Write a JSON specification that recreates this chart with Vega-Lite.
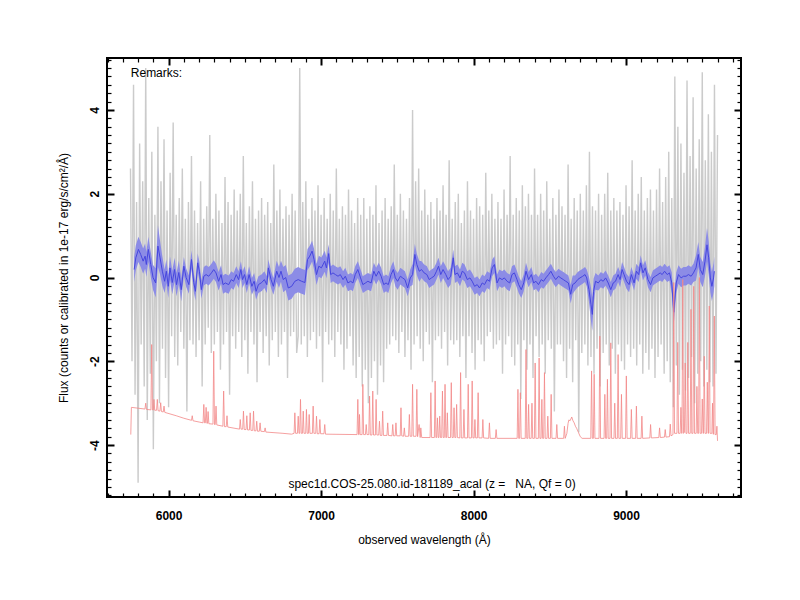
{
  "$schema": "https://vega.github.io/schema/vega-lite/v6.json",
  "width": 634,
  "height": 439,
  "autosize": {"type": "none"},
  "padding": {"left": 107, "top": 58, "right": 59, "bottom": 103},
  "background": "white",
  "config": {
    "view": {"stroke": "black", "strokeWidth": 2},
    "font": "Liberation Sans",
    "axis": {
      "grid": false,
      "domain": false,
      "tickColor": "black",
      "labelColor": "black",
      "labelFont": "Liberation Sans",
      "labelFontSize": 12,
      "labelFontWeight": "bold",
      "labelOverlap": false,
      "labelBound": false,
      "labelFlush": false,
      "titleFont": "Liberation Sans",
      "titleFontSize": 12,
      "titleFontWeight": "normal",
      "titleColor": "black"
    }
  },
  "resolve": {"axis": {"x": "independent", "y": "independent"}},
  "layer": [
    {
      "data": {
        "values": "w,f\n5750,2.6\n5760,-2.0\n5770,4.6\n5780,-2.8\n5790,1.8\n5800,-4.9\n5810,3.2\n5820,-1.6\n5830,2.3\n5840,-2.6\n5850,5.0\n5860,-3.4\n5870,1.9\n5880,-2.3\n5890,3.0\n5900,-4.1\n5910,1.5\n5920,-2.0\n5930,3.6\n5940,-3.0\n5950,2.3\n5960,-1.7\n5970,3.3\n5980,-2.4\n5990,1.6\n6000,-3.1\n6010,2.5\n6020,-1.4\n6030,3.7\n6040,-1.9\n6050,1.5\n6060,-2.1\n6070,1.9\n6080,-1.3\n6090,2.6\n6100,-1.7\n6110,1.4\n6120,-3.2\n6130,1.8\n6140,-1.5\n6150,2.9\n6160,-1.6\n6170,1.6\n6180,-1.9\n6190,1.3\n6200,-1.5\n6210,2.3\n6220,-2.6\n6230,1.4\n6240,-1.6\n6250,1.7\n6260,-1.2\n6270,3.4\n6280,-1.8\n6290,1.4\n6300,-1.6\n6310,2.0\n6320,-1.3\n6330,1.6\n6340,-2.2\n6350,1.3\n6360,-1.6\n6370,2.4\n6380,-1.3\n6390,1.8\n6400,-2.8\n6410,1.5\n6420,-1.4\n6430,2.1\n6440,-1.7\n6450,1.6\n6460,-1.3\n6470,2.0\n6480,-1.9\n6490,2.9\n6500,-1.5\n6510,1.3\n6520,-2.3\n6530,1.7\n6540,-1.3\n6550,2.3\n6560,-1.6\n6570,1.4\n6580,-2.5\n6590,1.6\n6600,-1.3\n6610,1.9\n6620,-1.8\n6630,1.5\n6640,-1.4\n6650,1.8\n6660,-2.1\n6670,1.3\n6680,-1.5\n6690,2.7\n6700,-1.3\n6710,1.6\n6720,-1.9\n6730,2.1\n6740,-1.6\n6750,1.4\n6760,-1.3\n6770,1.7\n6780,-2.4\n6790,1.5\n6800,-1.4\n6810,2.0\n6820,-1.3\n6830,1.6\n6840,-1.8\n6850,-1.4\n6860,5.0\n6870,-1.6\n6880,1.8\n6890,-1.4\n6900,2.3\n6910,-1.9\n6920,1.4\n6930,-1.5\n6940,1.9\n6950,-1.3\n6960,1.6\n6970,-1.7\n6980,2.2\n6990,-1.4\n7000,1.5\n7010,-2.5\n7020,1.9\n7030,-1.3\n7040,1.4\n7050,-1.6\n7060,2.0\n7070,-1.5\n7080,1.6\n7090,-1.9\n7100,2.6\n7110,-1.3\n7120,1.4\n7130,-1.6\n7140,1.7\n7150,-2.2\n7160,1.5\n7170,-1.7\n7180,2.1\n7190,-1.4\n7200,1.6\n7210,-2.1\n7220,1.3\n7230,-2.4\n7240,1.9\n7250,-1.9\n7260,1.5\n7270,-2.6\n7280,1.9\n7290,-2.2\n7300,1.4\n7310,-3.0\n7320,1.7\n7330,-2.4\n7340,1.5\n7350,-2.0\n7360,2.2\n7370,-2.8\n7380,1.3\n7390,-2.1\n7400,1.6\n7410,-2.5\n7420,1.9\n7430,-1.7\n7440,1.4\n7450,-1.6\n7460,1.7\n7470,-1.4\n7480,2.7\n7490,-1.5\n7500,1.5\n7510,-1.8\n7520,2.0\n7530,-1.3\n7540,1.6\n7550,-1.9\n7560,1.4\n7570,-1.5\n7580,1.9\n7590,-2.2\n7600,4.0\n7610,-1.6\n7620,2.3\n7630,-1.4\n7640,2.6\n7650,-1.7\n7660,1.6\n7670,-2.0\n7680,2.1\n7690,-1.3\n7700,1.5\n7710,-1.6\n7720,1.8\n7730,-2.5\n7740,1.4\n7750,-1.5\n7760,1.9\n7770,-1.4\n7780,1.6\n7790,-1.7\n7800,2.2\n7810,-1.3\n7820,1.5\n7830,-2.1\n7840,2.8\n7850,-1.5\n7860,1.4\n7870,-1.6\n7880,1.8\n7890,-1.5\n7900,2.0\n7910,-1.9\n7920,1.3\n7930,-1.4\n7940,1.6\n7950,-2.4\n7960,2.3\n7970,-1.4\n7980,1.6\n7990,-1.8\n8000,1.4\n8010,-2.2\n8020,1.9\n8030,-1.5\n8040,1.7\n8050,-1.6\n8060,1.5\n8070,-2.0\n8080,2.5\n8090,-1.4\n8100,1.6\n8110,-1.3\n8120,2.0\n8130,-1.7\n8140,1.4\n8150,-1.6\n8160,1.8\n8170,-1.5\n8180,1.4\n8190,-2.3\n8200,2.1\n8210,-1.6\n8220,1.5\n8230,-1.4\n8240,2.9\n8250,-1.9\n8260,1.5\n8270,-2.1\n8280,1.9\n8290,-1.6\n8300,1.6\n8310,-2.9\n8320,2.2\n8330,-1.5\n8340,1.7\n8350,-2.2\n8360,2.0\n8370,-1.6\n8380,1.5\n8390,-2.4\n8400,2.6\n8410,-1.4\n8420,1.5\n8430,-1.9\n8440,2.0\n8450,-1.6\n8460,1.6\n8470,-2.3\n8480,2.3\n8490,-1.5\n8500,1.4\n8510,-1.7\n8520,1.9\n8530,-3.2\n8540,1.5\n8550,-1.6\n8560,2.1\n8570,-1.6\n8580,1.7\n8590,-2.0\n8600,1.5\n8610,-2.4\n8620,2.7\n8630,-1.7\n8640,1.4\n8650,-2.5\n8660,1.9\n8670,-1.5\n8680,1.6\n8690,-3.7\n8700,2.0\n8710,-1.8\n8720,1.6\n8730,-1.6\n8740,2.2\n8750,-2.1\n8760,3.0\n8770,-1.9\n8780,1.7\n8790,-2.3\n8800,1.6\n8810,-1.7\n8820,2.0\n8830,-2.6\n8840,1.5\n8850,-1.8\n8860,2.0\n8870,-1.6\n8880,2.5\n8890,-2.1\n8900,1.6\n8910,-1.7\n8920,1.9\n8930,-2.3\n8940,1.6\n8950,-1.6\n8960,1.8\n8970,-2.0\n8980,1.5\n8990,-2.2\n9000,2.2\n9010,-1.6\n9020,1.7\n9030,-1.9\n9040,2.8\n9050,-1.7\n9060,1.6\n9070,-2.1\n9080,2.0\n9090,-1.6\n9100,2.4\n9110,-2.3\n9120,1.6\n9130,-1.8\n9140,1.9\n9150,-2.2\n9160,2.1\n9170,-1.7\n9180,1.6\n9190,-2.4\n9200,2.1\n9210,-1.9\n9220,2.6\n9230,-1.6\n9240,1.8\n9250,-2.3\n9260,2.4\n9270,-2.0\n9280,3.0\n9290,-2.5\n9300,1.9\n9310,-3.1\n9320,4.8\n9330,-2.1\n9340,3.6\n9350,-2.8\n9360,3.2\n9370,-2.2\n9380,2.5\n9390,-2.7\n9400,4.7\n9410,-2.4\n9420,2.9\n9430,-1.9\n9440,4.3\n9450,-3.0\n9460,2.6\n9470,-2.3\n9480,3.3\n9490,-2.0\n9500,4.9\n9510,-2.6\n9520,2.8\n9530,-2.2\n9540,3.9\n9550,-2.5\n9560,3.0\n9570,-2.6\n9580,4.6\n9590,-2.3\n9600,3.4",
        "format": {"type": "csv", "parse": {"w": "number", "f": "number"}}
      },
      "mark": {"type": "line", "color": "#cbcbcb", "strokeWidth": 1.4, "clip": true},
      "encoding": {
        "x": {
          "field": "w",
          "type": "quantitative",
          "scale": {"domain": [5596, 9754], "nice": false, "zero": false},
          "axis": {
            "orient": "bottom",
            "title": "observed wavelength (Å)",
            "titlePadding": 13,
            "values": [6000, 7000, 8000, 9000],
            "format": "d",
            "ticks": false,
            "tickSize": 0,
            "labelPadding": 13
          }
        },
        "y": {
          "field": "f",
          "type": "quantitative",
          "scale": {"domain": [-5.24, 5.24], "nice": false, "zero": false},
          "axis": {
            "orient": "left",
            "title": "Flux (counts or calibrated in 1e-17 erg/s/cm²/Å)",
            "titlePadding": 18,
            "values": [-4, -2, 0, 2, 4],
            "labelExpr": "'' + datum.value",
            "ticks": false,
            "tickSize": 0,
            "labelAngle": -90,
            "labelAlign": "center",
            "labelBaseline": "bottom",
            "labelPadding": 6
          }
        }
      }
    },
    {
      "data": {
        "name": "blue",
        "values": "w,f,lo,hi\n5774,0.19,-0.11,0.49\n5785,0.47,0.17,0.77\n5802,0.67,0.37,0.97\n5817,0.55,0.25,0.85\n5833,0.39,0.09,0.69\n5846,0.51,0.21,0.81\n5854,0.31,0.01,0.61\n5867,0.67,0.37,0.97\n5883,0.31,0.01,0.61\n5898,0.0,-0.3,0.3\n5915,-0.13,-0.48,0.22\n5930,0.75,0.25,1.25\n5944,0.47,0.07,0.87\n5959,0.15,-0.2,0.5\n5974,-0.09,-0.37,0.19\n5985,0.15,-0.13,0.43\n5998,-0.21,-0.49,0.07\n6009,0.23,-0.05,0.51\n6024,-0.12,-0.4,0.16\n6039,0.19,-0.09,0.47\n6052,-0.17,-0.45,0.11\n6067,0.12,-0.16,0.4\n6083,-0.29,-0.57,-0.01\n6100,0.27,0.05,0.49\n6115,0.0,-0.22,0.22\n6133,-0.17,-0.39,0.05\n6150,0.43,0.21,0.65\n6165,-0.12,-0.34,0.1\n6176,-0.33,-0.55,-0.11\n6191,0.35,0.13,0.57\n6202,0.15,-0.07,0.37\n6215,-0.29,-0.51,-0.07\n6231,0.03,-0.19,0.25\n6246,0.07,-0.15,0.29\n6263,0.03,-0.19,0.25\n6281,0.11,-0.11,0.33\n6296,0.19,-0.03,0.41\n6311,0.11,-0.11,0.33\n6328,-0.09,-0.31,0.13\n6344,0.07,-0.15,0.29\n6357,-0.17,-0.39,0.05\n6372,-0.13,-0.35,0.09\n6394,-0.17,-0.39,0.05\n6411,-0.05,-0.25,0.15\n6426,-0.09,-0.29,0.11\n6444,0.07,-0.13,0.27\n6459,-0.05,-0.25,0.15\n6474,0.19,-0.01,0.39\n6485,-0.05,-0.25,0.15\n6498,0.07,-0.13,0.27\n6513,-0.17,-0.37,0.03\n6528,0.07,-0.13,0.27\n6546,-0.21,-0.41,-0.01\n6561,-0.09,-0.29,0.11\n6574,-0.33,-0.53,-0.13\n6589,-0.17,-0.37,0.03\n6611,-0.12,-0.32,0.08\n6628,-0.05,-0.25,0.15\n6644,-0.17,-0.37,0.03\n6654,0.23,0.03,0.43\n6672,-0.05,-0.25,0.15\n6687,-0.21,-0.41,-0.01\n6709,0.15,-0.1,0.4\n6724,0.0,-0.25,0.25\n6737,0.15,-0.1,0.4\n6752,-0.05,-0.35,0.25\n6768,0.0,-0.3,0.3\n6785,-0.25,-0.55,0.05\n6807,-0.21,-0.51,0.09\n6828,-0.09,-0.39,0.21\n6850,-0.05,-0.35,0.25\n6872,-0.09,-0.39,0.21\n6894,-0.12,-0.42,0.18\n6911,0.43,0.18,0.68\n6926,0.51,0.26,0.76\n6941,0.63,0.38,0.88\n6954,0.43,0.18,0.68\n6970,0.07,-0.18,0.32\n6985,0.27,0.02,0.52\n7002,0.23,-0.02,0.48\n7024,0.39,0.14,0.64\n7035,0.23,-0.02,0.48\n7050,0.57,0.35,0.79\n7063,0.07,-0.13,0.27\n7078,0.11,-0.09,0.31\n7094,0.07,-0.13,0.27\n7111,0.03,-0.17,0.23\n7126,0.07,-0.13,0.27\n7144,-0.05,-0.25,0.15\n7159,0.03,-0.17,0.23\n7176,-0.13,-0.33,0.07\n7194,-0.09,-0.29,0.11\n7209,-0.13,-0.33,0.07\n7224,0.07,-0.13,0.27\n7241,0.19,-0.01,0.39\n7259,-0.01,-0.21,0.19\n7274,-0.17,-0.37,0.03\n7291,-0.13,-0.33,0.07\n7307,-0.09,-0.29,0.11\n7328,-0.13,-0.33,0.07\n7346,0.15,-0.05,0.35\n7361,0.03,-0.17,0.23\n7378,0.15,-0.05,0.35\n7394,0.03,-0.17,0.23\n7411,-0.17,-0.37,0.03\n7426,-0.13,-0.33,0.07\n7441,-0.17,-0.37,0.03\n7459,0.07,-0.13,0.27\n7474,0.19,-0.01,0.39\n7487,-0.01,-0.21,0.19\n7502,-0.09,-0.29,0.11\n7520,0.03,-0.17,0.23\n7535,-0.01,-0.21,0.19\n7550,-0.05,-0.25,0.15\n7568,-0.25,-0.45,-0.05\n7585,-0.01,-0.21,0.19\n7600,0.07,-0.18,0.32\n7615,0.55,0.3,0.8\n7628,0.31,0.06,0.56\n7644,0.15,-0.1,0.4\n7659,0.19,-0.01,0.39\n7676,0.11,-0.09,0.31\n7694,0.07,-0.13,0.27\n7709,-0.05,-0.25,0.15\n7724,-0.01,-0.21,0.19\n7741,0.03,-0.17,0.23\n7757,0.15,-0.05,0.35\n7770,0.27,0.07,0.47\n7785,0.07,-0.13,0.27\n7800,0.19,-0.01,0.39\n7818,0.07,-0.13,0.27\n7833,-0.05,-0.25,0.15\n7850,0.03,-0.17,0.23\n7867,0.47,0.27,0.67\n7878,0.07,-0.13,0.27\n7894,0.11,-0.09,0.31\n7911,-0.01,-0.21,0.19\n7926,0.15,-0.05,0.35\n7941,0.11,-0.09,0.31\n7959,-0.05,-0.25,0.15\n7976,-0.01,-0.21,0.19\n7991,-0.09,-0.29,0.11\n8007,-0.21,-0.41,-0.01\n8024,-0.17,-0.37,0.03\n8039,-0.25,-0.45,-0.05\n8057,-0.13,-0.33,0.07\n8072,-0.17,-0.37,0.03\n8089,-0.05,-0.25,0.15\n8105,-0.09,-0.29,0.11\n8122,0.23,0.03,0.43\n8137,0.31,0.11,0.51\n8154,-0.13,-0.33,0.07\n8170,-0.01,-0.21,0.19\n8187,-0.05,-0.25,0.15\n8202,-0.01,-0.21,0.19\n8220,-0.09,-0.29,0.11\n8237,-0.13,-0.33,0.07\n8252,0.07,-0.13,0.27\n8268,0.11,-0.09,0.31\n8285,-0.05,-0.25,0.15\n8296,-0.17,-0.37,0.03\n8313,-0.29,-0.49,-0.09\n8329,-0.13,-0.33,0.07\n8344,0.15,-0.05,0.35\n8361,-0.05,-0.23,0.13\n8379,0.07,-0.11,0.25\n8394,-0.13,-0.31,0.05\n8409,-0.09,-0.27,0.09\n8426,-0.17,-0.35,0.01\n8444,-0.05,-0.23,0.13\n8459,-0.09,-0.27,0.09\n8474,-0.01,-0.19,0.17\n8492,0.07,-0.11,0.25\n8507,0.15,-0.03,0.33\n8524,0.03,-0.15,0.21\n8539,-0.05,-0.23,0.13\n8557,0.03,-0.15,0.21\n8572,-0.01,-0.19,0.17\n8589,-0.05,-0.23,0.13\n8605,-0.09,-0.27,0.09\n8622,-0.13,-0.31,0.05\n8637,-0.4,-0.62,-0.18\n8650,-0.17,-0.39,0.05\n8666,-0.13,-0.31,0.05\n8683,-0.05,-0.23,0.13\n8698,-0.01,-0.19,0.17\n8716,0.03,-0.15,0.21\n8731,0.07,-0.11,0.25\n8742,-0.01,-0.21,0.19\n8757,-0.29,-0.59,0.01\n8770,-0.64,-1.04,-0.24\n8779,-0.88,-1.28,-0.48\n8787,-0.33,-0.63,-0.03\n8800,-0.09,-0.29,0.11\n8818,-0.13,-0.31,0.05\n8835,-0.05,-0.23,0.13\n8850,-0.09,-0.27,0.09\n8866,-0.01,-0.19,0.17\n8883,-0.13,-0.31,0.05\n8900,-0.29,-0.47,-0.11\n8916,-0.13,-0.31,0.05\n8931,-0.09,-0.27,0.09\n8948,0.07,-0.11,0.25\n8961,-0.05,-0.23,0.13\n8974,0.19,0.01,0.37\n8987,0.07,-0.11,0.25\n9003,-0.09,-0.27,0.09\n9020,-0.17,-0.35,0.01\n9035,0.07,-0.11,0.25\n9053,-0.13,-0.31,0.05\n9068,0.15,-0.03,0.33\n9083,0.07,-0.11,0.25\n9096,0.35,0.17,0.53\n9111,0.11,-0.07,0.29\n9126,0.23,0.05,0.41\n9144,-0.05,-0.23,0.13\n9161,-0.17,-0.35,0.01\n9176,-0.01,-0.19,0.17\n9192,0.03,-0.15,0.21\n9209,0.07,-0.11,0.25\n9224,0.11,-0.07,0.29\n9237,0.07,-0.11,0.25\n9253,0.15,-0.03,0.33\n9270,0.07,-0.11,0.25\n9285,0.11,-0.07,0.29\n9300,-0.13,-0.38,0.12\n9313,-0.83,-1.13,-0.53\n9329,-0.13,-0.38,0.12\n9344,0.07,-0.15,0.29\n9361,-0.01,-0.23,0.21\n9377,0.03,-0.19,0.25\n9394,0.03,-0.19,0.25\n9409,0.07,-0.15,0.29\n9427,0.03,-0.19,0.25\n9442,0.11,-0.11,0.33\n9459,0.23,-0.07,0.53\n9474,0.55,0.25,0.85\n9487,0.19,-0.11,0.49\n9503,0.07,-0.23,0.37\n9518,0.39,0.04,0.74\n9531,0.78,0.38,1.18\n9542,0.47,0.07,0.87\n9553,-0.01,-0.36,0.34\n9563,-0.21,-0.56,0.14\n9574,-0.01,-0.36,0.34\n9579,0.15,-0.2,0.5",
        "format": {"type": "csv", "parse": {"w": "number", "f": "number", "lo": "number", "hi": "number"}}
      },
      "mark": {"type": "area", "color": "#8c8ce6", "opacity": 1},
      "encoding": {
        "x": {
          "field": "w",
          "type": "quantitative",
          "scale": {"domain": [5596, 9754], "nice": false, "zero": false},
          "axis": {"orient": "top", "offset": -439, "title": null, "labels": false, "values": [6000, 7000, 8000, 9000], "tickSize": 7, "tickWidth": 2}
        },
        "y": {
          "field": "lo",
          "type": "quantitative",
          "scale": {"domain": [-5.24, 5.24], "nice": false, "zero": false},
          "axis": {"orient": "right", "offset": -634, "title": null, "labels": false, "values": [-4, -2, 0, 2, 4], "tickSize": 7, "tickWidth": 2}
        },
        "y2": {"field": "hi"}
      }
    },
    {
      "data": {"name": "blue"},
      "mark": {"type": "line", "color": "#4646de", "strokeWidth": 1},
      "encoding": {
        "x": {
          "field": "w",
          "type": "quantitative",
          "scale": {"domain": [5596, 9754], "nice": false, "zero": false},
          "axis": {"orient": "top", "offset": -439, "title": null, "labels": false, "values": [5600, 5700, 5800, 5900, 6100, 6200, 6300, 6400, 6500, 6600, 6700, 6800, 6900, 7100, 7200, 7300, 7400, 7500, 7600, 7700, 7800, 7900, 8100, 8200, 8300, 8400, 8500, 8600, 8700, 8800, 8900, 9100, 9200, 9300, 9400, 9500, 9600, 9700], "tickSize": 4, "tickWidth": 1.2}
        },
        "y": {
          "field": "f",
          "type": "quantitative",
          "scale": {"domain": [-5.24, 5.24], "nice": false, "zero": false},
          "axis": {"orient": "right", "offset": -634, "title": null, "labels": false, "values": [-5.2, -5, -4.8, -4.6, -4.4, -4.2, -3.8, -3.6, -3.4, -3.2, -3, -2.8, -2.6, -2.4, -2.2, -1.8, -1.6, -1.4, -1.2, -1, -0.8, -0.6, -0.4, -0.2, 0.2, 0.4, 0.6, 0.8, 1, 1.2, 1.4, 1.6, 1.8, 2.2, 2.4, 2.6, 2.8, 3, 3.2, 3.4, 3.6, 3.8, 4.2, 4.4, 4.6, 4.8, 5, 5.2], "tickSize": 4, "tickWidth": 1.2}
        }
      }
    },
    {
      "data": {
        "values": "w,f\n5752,-3.75\n5756,-3.1\n5800,-3.12\n5845,-3.14\n5850,-3.0\n5855,-3.15\n5884,-3.16\n5889,-1.6\n5894,-3.16\n5900,-3.16\n5904,-2.91\n5909,-3.17\n5921,-3.17\n5926,-2.91\n5931,-3.18\n5943,-3.19\n5948,-2.99\n5953,-3.2\n5965,-3.21\n5970,-3.07\n5975,-3.22\n6050,-3.3\n6100,-3.36\n6150,-3.41\n6155,-3.3\n6160,-3.42\n6200,-3.45\n6226,-3.47\n6231,-3.03\n6236,-3.47\n6241,-3.47\n6246,-3.1\n6251,-3.48\n6255,-3.48\n6259,-3.2\n6264,-3.49\n6291,-3.5\n6296,-1.76\n6301,-3.51\n6306,-3.51\n6311,-3.07\n6316,-3.52\n6356,-3.55\n6361,-2.71\n6366,-3.56\n6378,-3.56\n6383,-3.3\n6388,-3.57\n6465,-3.62\n6470,-3.39\n6475,-3.62\n6486,-3.62\n6491,-3.19\n6496,-3.63\n6508,-3.63\n6513,-3.3\n6518,-3.64\n6530,-3.64\n6535,-3.23\n6540,-3.65\n6552,-3.65\n6557,-3.19\n6562,-3.66\n6573,-3.66\n6578,-3.43\n6583,-3.67\n6595,-3.67\n6600,-3.47\n6605,-3.67\n6628,-3.68\n6633,-3.59\n6638,-3.69\n6750,-3.72\n6807,-3.74\n6823,-3.72\n6828,-3.23\n6833,-3.72\n6845,-3.72\n6850,-3.31\n6855,-3.72\n6860,-3.72\n6865,-2.91\n6870,-3.72\n6878,-3.72\n6883,-3.19\n6888,-3.72\n6899,-3.72\n6904,-3.15\n6909,-3.72\n6917,-3.72\n6922,-3.27\n6927,-3.72\n6943,-3.72\n6948,-3.07\n6953,-3.72\n6965,-3.72\n6970,-3.31\n6975,-3.73\n6987,-3.73\n6992,-3.39\n6997,-3.73\n7019,-3.73\n7024,-3.51\n7029,-3.74\n7236,-3.75\n7241,-2.91\n7246,-3.75\n7249,-3.75\n7252,-3.27\n7256,-3.75\n7269,-3.75\n7274,-2.55\n7279,-3.75\n7291,-3.75\n7296,-3.51\n7301,-3.75\n7313,-3.75\n7318,-2.83\n7323,-3.76\n7334,-3.76\n7339,-2.71\n7344,-3.76\n7356,-3.76\n7361,-2.91\n7366,-3.76\n7378,-3.76\n7383,-3.43\n7388,-3.77\n7399,-3.77\n7404,-3.19\n7409,-3.77\n7432,-3.77\n7437,-3.47\n7442,-3.77\n7465,-3.78\n7470,-3.51\n7475,-3.78\n7486,-3.78\n7491,-3.47\n7496,-3.78\n7519,-3.78\n7524,-3.11\n7529,-3.78\n7541,-3.79\n7546,-3.59\n7551,-3.79\n7574,-3.79\n7579,-3.27\n7584,-3.79\n7595,-3.79\n7600,-2.55\n7605,-3.79\n7623,-3.79\n7628,-2.67\n7633,-3.8\n7643,-3.51\n7650,-3.82\n7654,-3.59\n7660,-3.82\n7715,-3.82\n7720,-2.75\n7725,-3.82\n7743,-3.82\n7748,-2.47\n7753,-3.82\n7758,-3.82\n7763,-3.35\n7768,-3.82\n7773,-3.82\n7778,-3.31\n7783,-3.82\n7791,-3.82\n7796,-2.71\n7801,-3.82\n7808,-3.82\n7813,-2.55\n7818,-3.82\n7823,-3.82\n7828,-3.23\n7833,-3.82\n7849,-3.82\n7854,-2.51\n7859,-3.82\n7867,-3.82\n7872,-3.11\n7877,-3.82\n7884,-3.82\n7889,-3.03\n7894,-3.82\n7910,-3.83\n7915,-2.27\n7920,-3.83\n7932,-3.83\n7937,-3.15\n7942,-3.83\n7960,-3.83\n7965,-2.55\n7970,-3.83\n7986,-3.83\n7991,-2.47\n7996,-3.83\n8004,-3.83\n8009,-3.39\n8014,-3.83\n8025,-3.83\n8030,-2.75\n8035,-3.83\n8056,-3.83\n8061,-3.39\n8066,-3.83\n8099,-3.84\n8104,-3.47\n8109,-3.84\n8143,-3.84\n8148,-3.63\n8153,-3.84\n8286,-3.84\n8291,-2.67\n8296,-3.84\n8302,-3.84\n8307,-2.75\n8312,-3.84\n8339,-3.84\n8344,-1.72\n8349,-3.84\n8356,-3.84\n8361,-3.03\n8366,-3.84\n8378,-3.84\n8383,-3.0\n8388,-3.84\n8399,-3.84\n8404,-2.04\n8409,-3.84\n8425,-3.84\n8430,-1.92\n8435,-3.84\n8443,-3.84\n8448,-2.91\n8453,-3.84\n8460,-3.84\n8465,-2.27\n8470,-3.84\n8482,-3.84\n8487,-3.31\n8492,-3.84\n8504,-3.84\n8509,-2.79\n8514,-3.84\n8541,-3.84\n8546,-3.51\n8551,-3.84\n8591,-3.84\n8596,-3.55\n8601,-3.84\n8612,-3.72\n8620,-3.48\n8625,-3.4\n8633,-3.42\n8644,-3.33\n8652,-3.42\n8660,-3.47\n8668,-3.55\n8676,-3.6\n8688,-3.7\n8700,-3.8\n8712,-3.84\n8769,-3.84\n8774,-2.23\n8779,-3.84\n8786,-3.84\n8791,-2.31\n8796,-3.84\n8823,-3.84\n8828,-1.4\n8833,-3.84\n8856,-3.84\n8861,-2.79\n8866,-3.84\n8873,-3.84\n8878,-2.43\n8883,-3.84\n8895,-3.84\n8900,-1.56\n8905,-3.84\n8921,-3.84\n8926,-3.0\n8931,-3.84\n8943,-3.84\n8948,-1.84\n8953,-3.84\n8965,-3.84\n8970,-2.79\n8975,-3.84\n8997,-3.84\n9002,-2.35\n9007,-3.84\n9030,-3.84\n9035,-3.15\n9040,-3.84\n9063,-3.84\n9068,-3.07\n9073,-3.84\n9099,-3.84\n9104,-3.31\n9109,-3.84\n9156,-3.83\n9161,-3.51\n9166,-3.83\n9215,-3.82\n9220,-3.59\n9225,-3.82\n9252,-3.81\n9257,-3.63\n9262,-3.81\n9285,-3.8\n9290,-3.5\n9295,-3.78\n9308,-3.75\n9313,-0.12\n9318,-3.72\n9334,-3.72\n9339,-1.55\n9344,-3.72\n9355,-3.72\n9360,-3.1\n9365,-3.72\n9367,-3.72\n9372,-0.05\n9377,-3.72\n9383,-3.7\n9388,-2.04\n9393,-3.72\n9400,-3.72\n9405,-1.55\n9410,-3.72\n9421,-3.72\n9426,-0.76\n9431,-3.72\n9439,-3.72\n9444,-0.21\n9449,-3.72\n9460,-3.72\n9465,-2.6\n9470,-3.72\n9476,-3.72\n9481,0.0\n9486,-3.72\n9495,-3.72\n9500,-2.9\n9505,-3.72\n9508,-3.72\n9513,-1.88\n9518,-3.72\n9528,-3.72\n9533,-2.5\n9538,-3.72\n9541,-3.72\n9546,-0.68\n9551,-3.72\n9563,-3.72\n9567,-3.0\n9571,-3.74\n9574,-3.74\n9579,-0.92\n9584,-3.75\n9592,-3.75\n9596,-3.55\n9600,-3.9",
        "format": {"type": "csv", "parse": {"w": "number", "f": "number"}}
      },
      "mark": {"type": "line", "color": "#f28888", "strokeWidth": 0.8},
      "encoding": {
        "x": {
          "field": "w",
          "type": "quantitative",
          "scale": {"domain": [5596, 9754], "nice": false, "zero": false},
          "axis": {"orient": "bottom", "offset": -439, "title": null, "labels": false, "values": [6000, 7000, 8000, 9000], "tickSize": 7, "tickWidth": 2}
        },
        "y": {
          "field": "f",
          "type": "quantitative",
          "scale": {"domain": [-5.24, 5.24], "nice": false, "zero": false},
          "axis": {"orient": "left", "offset": -634, "title": null, "labels": false, "values": [-4, -2, 0, 2, 4], "tickSize": 7, "tickWidth": 2}
        }
      }
    },
    {
      "data": {"values": [{"w": 5752, "f": 4.89, "label": "Remarks:"}]},
      "mark": {"type": "text", "align": "left", "baseline": "middle", "font": "Liberation Sans", "fontSize": 12, "color": "black"},
      "encoding": {
        "x": {
          "field": "w",
          "type": "quantitative",
          "scale": {"domain": [5596, 9754], "nice": false, "zero": false},
          "axis": {"orient": "bottom", "offset": -439, "title": null, "labels": false, "values": [5600, 5700, 5800, 5900, 6100, 6200, 6300, 6400, 6500, 6600, 6700, 6800, 6900, 7100, 7200, 7300, 7400, 7500, 7600, 7700, 7800, 7900, 8100, 8200, 8300, 8400, 8500, 8600, 8700, 8800, 8900, 9100, 9200, 9300, 9400, 9500, 9600, 9700], "tickSize": 4, "tickWidth": 1.2}
        },
        "y": {
          "field": "f",
          "type": "quantitative",
          "scale": {"domain": [-5.24, 5.24], "nice": false, "zero": false},
          "axis": {"orient": "left", "offset": -634, "title": null, "labels": false, "values": [-5.2, -5, -4.8, -4.6, -4.4, -4.2, -3.8, -3.6, -3.4, -3.2, -3, -2.8, -2.6, -2.4, -2.2, -1.8, -1.6, -1.4, -1.2, -1, -0.8, -0.6, -0.4, -0.2, 0.2, 0.4, 0.6, 0.8, 1, 1.2, 1.4, 1.6, 1.8, 2.2, 2.4, 2.6, 2.8, 3, 3.2, 3.4, 3.6, 3.8, 4.2, 4.4, 4.6, 4.8, 5, 5.2], "tickSize": 4, "tickWidth": 1.2}
        },
        "text": {"field": "label"}
      }
    },
    {
      "data": {"values": [{"w": 7728, "f": -4.94, "label": "spec1d.COS-25.080.id-181189_acal (z =\u00a0\u00a0 NA, Qf = 0)"}]},
      "mark": {"type": "text", "align": "center", "baseline": "middle", "font": "Liberation Sans", "fontSize": 12, "color": "black"},
      "encoding": {
        "x": {"field": "w", "type": "quantitative", "scale": {"domain": [5596, 9754], "nice": false, "zero": false}, "axis": null},
        "y": {"field": "f", "type": "quantitative", "scale": {"domain": [-5.24, 5.24], "nice": false, "zero": false}, "axis": null},
        "text": {"field": "label"}
      }
    }
  ]
}
